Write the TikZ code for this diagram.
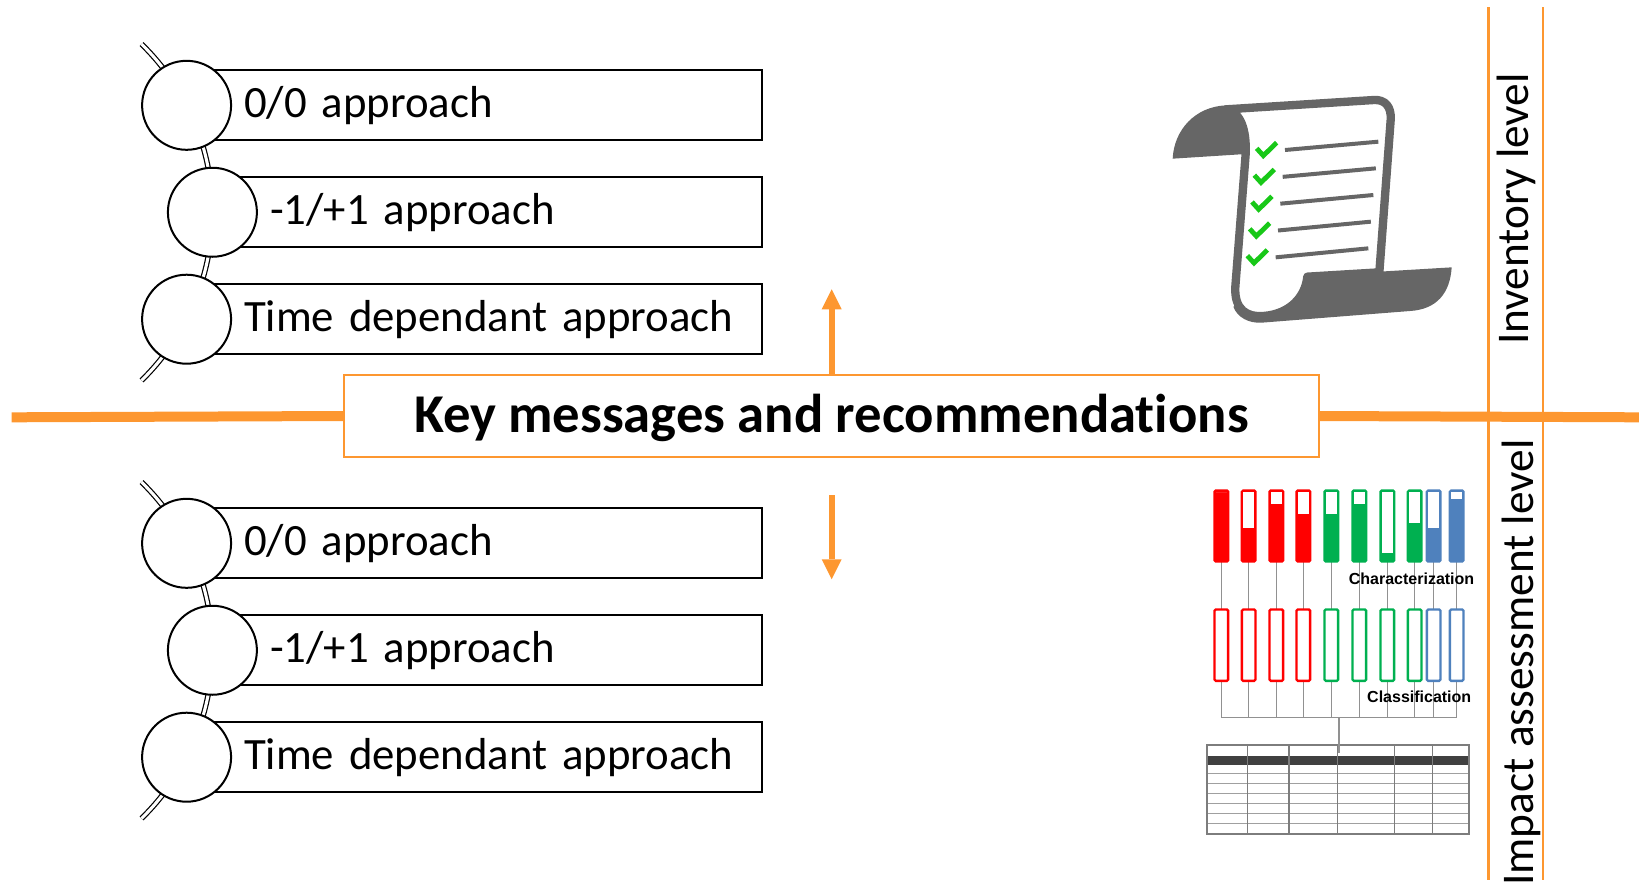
\documentclass[tikz,border=0pt]{standalone}
\usepackage{fontspec}
\setmainfont{Carlito}[Ligatures=NoCommon]
\newfontfamily\chartfont{Liberation Sans}
\usetikzlibrary{arrows.meta}

\definecolor{accent}{RGB}{253,151,48}
\definecolor{scrollgray}{RGB}{102,102,102}
\definecolor{tickgreen}{RGB}{24,200,24}
\definecolor{barred}{RGB}{255,0,0}
\definecolor{bargreen}{RGB}{0,176,80}
\definecolor{barblue}{RGB}{79,129,189}
\definecolor{wiregray}{RGB}{145,145,145}
\definecolor{framegray}{RGB}{125,125,125}
\definecolor{rulegray}{RGB}{160,160,160}
\definecolor{headdark}{RGB}{64,64,64}

\begin{document}
\begin{tikzpicture}[x=0.75pt,y=-0.75pt,
  listbox/.style={draw=black, line width=1.5pt, fill=white, anchor=west,
    minimum height=52.5pt, inner xsep=0pt, inner ysep=0pt, text width=#1,
    align=left, text height=18.3pt, text depth=0pt,
    font=\fontsize{33.6}{40}\selectfont},
  dot/.style={circle, draw=black, line width=1.5pt, fill=white,
    minimum size=66.75pt, inner sep=0pt},
  spine/.style={draw=black, line width=0.9pt, double=white, double distance=2.3pt},
  keybox/.style={draw=accent, line width=1.5pt, fill=white,
    minimum width=731.25pt, minimum height=61.5pt, inner sep=0pt,
    text height=25.3pt, text depth=0pt,
    font=\bfseries\fontsize{41}{47}\selectfont},
  levellabel/.style={rotate=90, anchor=base west, inner sep=0pt,
    font=\fontsize{34}{40}\selectfont},
  axisline/.style={draw=accent, line width=7.5pt},
  divider/.style={draw=accent, line width=1.6pt},
  flowarrow/.style={draw=accent, line width=4.5pt,
    -{Triangle[length=15pt,width=15pt,line width=0pt]}},
  wire/.style={draw=wiregray, line width=1.1pt},
  chartlabel/.style={anchor=east, inner sep=0pt, text height=8.6pt, text depth=0pt,
    font=\chartfont\bfseries\fontsize{12}{14}\selectfont},
]
\useasboundingbox (0,0) rectangle (1639,883);

% ---------- orange axis and level dividers ----------
\coordinate (axisL) at (11.7,417.3);
\coordinate (axisR) at (1639,417.3);
\coordinate (divAtop) at (1488.5,7);
\coordinate (divAbot) at (1488.5,880);
\coordinate (divBtop) at (1543.3,7);
\coordinate (divBbot) at (1543.3,880);
\draw[divider] (divAtop) -- (divAbot);
\draw[divider] (divBtop) -- (divBbot);

\node[keybox] (key) at (831.5,416) {Key messages and recommendations};
\draw[axisline] (axisL) -- (key.west);
\draw[axisline] (key.east) -- (axisR);

% ---------- arrows ----------
\coordinate (upTip) at (831.7,289.3);
\coordinate (downStart) at (831.7,495);
\coordinate (downTip) at (831.7,579.3);
\draw[flowarrow] (key.north -| upTip) -- (upTip);
\draw[flowarrow] (downStart) -- (downTip);

% ---------- level labels ----------
\node[levellabel] (inv) at (1528,345) {Inventory level};
\node[levellabel] (imp) at (1533,886) {Impact assessment level};

% ---------- upper list ----------
\draw[spine] plot[domain=45.7:-45.7, samples=60, smooth]
  ({-22.6+235*cos(\x)},{212.25-235*sin(\x)});
\node[listbox=414pt]   (ua) at (209,105.3)  {\hspace*{25.5pt}0/0 approach};
\node[listbox=394.5pt] (ub) at (235,212.25) {\hspace*{25.5pt}-1/+1 approach};
\node[listbox=414pt]   (uc) at (209,319.2)  {\hspace*{25.5pt}Time dependant approach};
\node[dot] (uca) at (186.6,105.3) {};
\node[dot] (ucb) at (212.4,212.25) {};
\node[dot] (ucc) at (186.6,319.2) {};

% ---------- lower list ----------
\draw[spine] plot[domain=45.7:-45.7, samples=60, smooth]
  ({-22.6+235*cos(\x)},{650.25-235*sin(\x)});
\node[listbox=414pt]   (la) at (209,543.3)  {\hspace*{25.5pt}0/0 approach};
\node[listbox=394.5pt] (lb) at (235,650.25) {\hspace*{25.5pt}-1/+1 approach};
\node[listbox=414pt]   (lc) at (209,757.2)  {\hspace*{25.5pt}Time dependant approach};
\node[dot] (lca) at (186.6,543.3) {};
\node[dot] (lcb) at (212.4,650.25) {};
\node[dot] (lcc) at (186.6,757.2) {};

% ---------- scroll icon ----------
\begin{scope}[shift={(1150,80)}, x=0.25pt, y=-0.25pt]
  % bottom roll
  \fill[scrollgray] (470,588) -- (905,562) .. controls (900,640) and (860,688) .. (780,693)
    -- (335,728) .. controls (295,730) and (262,712) .. (250,680) -- cycle;
  % sheet
  \draw[scrollgray, line width=6.25pt, fill=white, line join=round]
    (287,222) -- (256,620) .. controls (252,690) and (292,712) .. (340,708)
    .. controls (420,702) and (466,650) .. (472,590) -- (688,577) -- (722,120)
    .. controls (725,80) and (705,58) .. (672,60) -- (228,88)
    .. controls (272,95) and (290,150) .. (287,222) -- cycle;
  % top curl
  \fill[scrollgray] (68,236) .. controls (72,150) and (135,80) .. (228,76) -- (228,88)
    .. controls (272,95) and (290,150) .. (287,222) -- cycle;
  % ticks and lines
  \foreach \i in {0,...,4} {
    \draw[tickgreen, line width=3.6pt, line join=miter]
      ({320-7*\i},{205+80.5*\i}) -- ({340-7*\i},{227+80.5*\i}) -- ({380-7*\i},{188+80.5*\i});
    \draw[scrollgray, line width=3pt]
      ({405-7*\i},{210+80.5*\i}) -- ({685-7.5*\i},{185+80*\i});
  }
\end{scope}

% ---------- characterization / classification chart ----------
\foreach \xl/\lev/\c in {1213.3/491.6/barred, 1240.7/528.3/barred, 1268.3/504.3/barred,
    1295.3/514.3/barred, 1323.3/514.3/bargreen, 1351.3/504.3/bargreen,
    1379.3/552.7/bargreen, 1406.7/523.3/bargreen, 1425.7/528.3/barblue,
    1448.7/499.3/barblue} {
  \draw[wire] (\xl+8,562) -- (\xl+8,609);
  \draw[wire] (\xl+8,681) -- (\xl+8,717.3);
  \filldraw[draw=\c, fill=\c, line width=1.75pt, rounded corners=1pt]
    (\xl+1.15,490.45) rectangle (\xl+14.85,561.55);
  \fill[white] (\xl+2.3,491.6) rectangle (\xl+13.7,\lev);
  \filldraw[draw=\c, fill=white, line width=1.75pt, rounded corners=1pt]
    (\xl+1.15,609.45) rectangle (\xl+14.85,680.85);
}
\coordinate (busL) at (1221.3,717.3);
\coordinate (busR) at (1456.7,717.3);
\coordinate (busMid) at (1339,717.3);
\draw[wire] (busL) -- (busR);
\node[chartlabel] (charlbl) at (1474.5,578.3) {Characterization};
\node[chartlabel] (classlbl) at (1471.5,696.7) {Classification};

% ---------- result table ----------
\fill[headdark] (1207.3,756) rectangle (1469.3,765.3);
\foreach \y in {773.3,783.3,793.3,803.3,813.3,823.3}
  \draw[rulegray, line width=0.8pt] (1207.3,\y) -- (1469.3,\y);
\foreach \x in {1247.7,1289,1337.7,1394.7,1432.7}
  \draw[framegray, line width=1.1pt] (\x,745) -- (\x,834);
\node[draw=framegray, line width=1.6pt, minimum width=196.5pt, minimum height=66.75pt,
  inner sep=0pt] (table) at (1338.3,789.5) {};
\draw[wire] (busMid) -- (busMid |- 0,753);
\end{tikzpicture}
\end{document}
